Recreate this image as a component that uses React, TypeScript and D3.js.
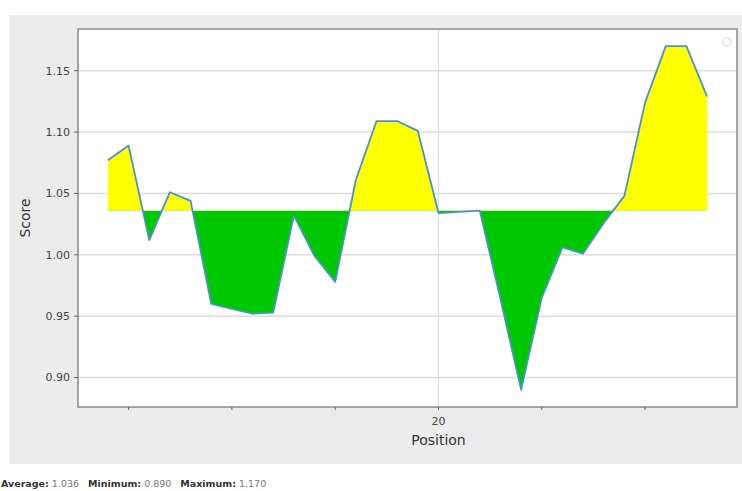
import React from "react";
import * as d3 from "d3";

// Per-position scores
const positions: number[] = [
  4, 5, 6, 7, 8, 9, 10, 11, 12, 13, 14, 15, 16, 17, 18,
  19, 20, 21, 22, 23, 24, 25, 26, 27, 28, 29, 30, 31, 32, 33,
];
const scores: number[] = [
  1.077, 1.089, 1.012, 1.051, 1.044, 0.960, 0.956, 0.952, 0.953, 1.032,
  0.999, 0.978, 1.061, 1.109, 1.109, 1.101, 1.034, 1.035, 1.036, 0.964,
  0.890, 0.965, 1.006, 1.001, 1.026, 1.048, 1.124, 1.170, 1.170, 1.129,
];
const yTicks: number[] = [0.9, 0.95, 1.0, 1.05, 1.1, 1.15];
const xMajorTicks: number[] = [20];
const xMinorTicks: number[] = [5, 10, 15, 25, 30];

const W = 742;
const H = 491;
const FONT = "'DejaVu Sans', sans-serif";

export default function App() {
  const avg = d3.mean(scores) as number;
  const min = d3.min(scores) as number;
  const max = d3.max(scores) as number;

  // matplotlib-like 5% margins around the data
  const [x0, x1] = d3.extent(positions) as [number, number];
  const xPad = (x1 - x0) * 0.05;
  const yPad = (max - min) * 0.05;

  const plot = { left: 78, right: 737, top: 29, bottom: 407 };
  const x = d3.scaleLinear().domain([x0 - xPad, x1 + xPad]).range([plot.left, plot.right]);
  const y = d3.scaleLinear().domain([min - yPad, max + yPad]).range([plot.bottom, plot.top]);

  const pts = positions.map((p, i) => [p, scores[i]] as [number, number]);
  const baseY = y(avg);

  const area = d3
    .area<[number, number]>()
    .x((d) => x(d[0]))
    .y0(baseY)
    .y1((d) => y(d[1]));
  const line = d3
    .line<[number, number]>()
    .x((d) => x(d[0]))
    .y((d) => y(d[1]));

  const areaPath = area(pts) as string;

  return (
    <svg
      width={W}
      height={H}
      style={{ position: "absolute", left: 0, top: 0, display: "block" }}
      fontFamily={FONT}
    >
      <rect x={0} y={0} width={W} height={H} fill="#ffffff" />
      <rect x={9} y={15} width={W - 9} height={449} fill="#ececec" />
      <rect
        x={plot.left}
        y={plot.top}
        width={plot.right - plot.left}
        height={plot.bottom - plot.top}
        fill="#ffffff"
      />
      <defs>
        <clipPath id="above">
          <rect x={plot.left} y={plot.top} width={plot.right - plot.left} height={baseY - plot.top} />
        </clipPath>
        <clipPath id="below">
          <rect x={plot.left} y={baseY} width={plot.right - plot.left} height={plot.bottom - baseY} />
        </clipPath>
      </defs>

      {/* grid */}
      {yTicks.map((t) => (
        <line
          key={"gy" + t}
          x1={plot.left}
          x2={plot.right}
          y1={y(t)}
          y2={y(t)}
          stroke="#dcdcdc"
          strokeWidth={1.5}
        />
      ))}
      {xMajorTicks.map((t) => (
        <line
          key={"gx" + t}
          x1={x(t)}
          x2={x(t)}
          y1={plot.top}
          y2={plot.bottom}
          stroke="#dcdcdc"
          strokeWidth={1.2}
        />
      ))}

      {/* fills relative to the average */}
      <path d={areaPath} fill="#ffff00" clipPath="url(#above)" />
      <path d={areaPath} fill="#00c800" clipPath="url(#below)" />
      <path d={line(pts) as string} fill="none" stroke="#4a92c6" strokeWidth={1.8} strokeLinejoin="round" />

      {/* frame */}
      <rect
        x={plot.left}
        y={plot.top}
        width={plot.right - plot.left}
        height={plot.bottom - plot.top}
        fill="none"
        stroke="#8a8a8a"
        strokeWidth={1.5}
      />
      <circle cx={727} cy={42} r={4} fill="none" stroke="#d8d8d8" strokeWidth={1.2} />

      {/* y axis */}
      {yTicks.map((t) => (
        <g key={"ty" + t}>
          <line x1={plot.left - 4} x2={plot.left} y1={y(t)} y2={y(t)} stroke="#666" />
          <text
            x={plot.left - 8}
            y={y(t)}
            dy="0.35em"
            textAnchor="end"
            fontSize={11}
            fill="#444"
          >
            {t.toFixed(2)}
          </text>
        </g>
      ))}
      <text
        transform={`translate(30,${(plot.top + plot.bottom) / 2}) rotate(-90)`}
        textAnchor="middle"
        fontSize={14}
        fill="#333"
      >
        Score
      </text>

      {/* x axis */}
      {xMinorTicks.concat(xMajorTicks).map((t) => (
        <line key={"tx" + t} x1={x(t)} x2={x(t)} y1={plot.bottom} y2={plot.bottom + 3} stroke="#666" />
      ))}
      {xMajorTicks.map((t) => (
        <text key={"lx" + t} x={x(t)} y={plot.bottom + 18} textAnchor="middle" fontSize={11} fill="#444">
          {t}
        </text>
      ))}
      <text x={x(20)} y={445} textAnchor="middle" fontSize={14} fill="#333">
        Position
      </text>

      {/* summary */}
      <text x={1} y={487} fontSize={9.5} fill="#333">
        <tspan fontWeight="bold">Average:</tspan>
        <tspan fill="#777"> {avg.toFixed(3)}</tspan>
        <tspan fontWeight="bold" dx={9}>Minimum:</tspan>
        <tspan fill="#777"> {min.toFixed(3)}</tspan>
        <tspan fontWeight="bold" dx={9}>Maximum:</tspan>
        <tspan fill="#777"> {max.toFixed(3)}</tspan>
      </text>
    </svg>
  );
}
